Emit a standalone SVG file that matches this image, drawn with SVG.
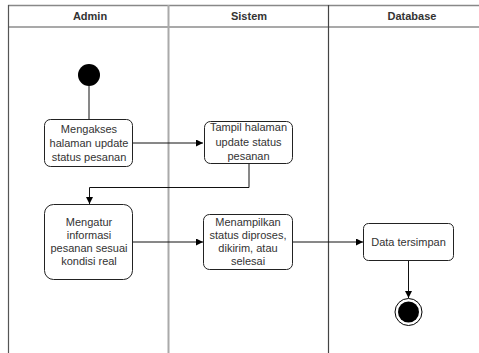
<svg xmlns="http://www.w3.org/2000/svg" width="479" height="353" viewBox="0 0 479 353">
<style>
text{font-family:"Liberation Sans",Arial,sans-serif;font-size:11px;fill:#333;text-anchor:middle}
.hd{font-weight:bold;fill:#333}
.box{fill:#fff;stroke:#222;stroke-width:1}
.ln{fill:none;stroke:#111;stroke-width:1}
</style>
<defs>
<marker id="ah" viewBox="0 0 10 10" refX="10" refY="5" markerWidth="7" markerHeight="7" markerUnits="userSpaceOnUse" orient="auto">
<path d="M0,0 L10,5 L0,10 z" fill="#000"/>
</marker>
</defs>
<g id="lanes">
<line x1="8" y1="5.5" x2="479" y2="5.5" stroke="#888" stroke-width="1.5"/>
<line x1="8" y1="27" x2="479" y2="27" stroke="#555" stroke-width="1.2"/>
<line x1="8.5" y1="5" x2="8.5" y2="353" stroke="#555" stroke-width="1.2"/>
<line x1="168.5" y1="5" x2="168.5" y2="353" stroke="#aaa" stroke-width="2"/>
<line x1="328.5" y1="5" x2="328.5" y2="353" stroke="#444" stroke-width="1.2"/>
<text class="hd" x="90" y="20">Admin</text>
<text class="hd" x="249" y="20">Sistem</text>
<text class="hd" x="412" y="20">Database</text>
</g>
<g id="connectors">
<line class="ln" x1="89" y1="86" x2="89" y2="119"/>
<line class="ln" x1="133" y1="143" x2="203" y2="143" marker-end="url(#ah)"/>
<polyline class="ln" points="249,164 249,187.5 89.5,187.5 89.5,204" marker-end="url(#ah)"/>
<line class="ln" x1="133" y1="242" x2="203" y2="242" marker-end="url(#ah)"/>
<line class="ln" x1="293" y1="242" x2="363" y2="242" marker-end="url(#ah)"/>
<line class="ln" x1="408.5" y1="261" x2="408.5" y2="298" marker-end="url(#ah)"/>
</g>
<g id="start">
<circle cx="89" cy="75" r="11" fill="#000"/>
</g>
<g id="n1">
<rect class="box" x="44.5" y="119.5" width="88" height="47" rx="6"/>
<text x="89" y="133">Mengakses</text>
<text x="89" y="147">halaman update</text>
<text x="89" y="161">status pesanan</text>
</g>
<g id="n2">
<rect class="box" x="204.5" y="121.5" width="88" height="42" rx="6"/>
<text x="248.5" y="131">Tampil halaman</text>
<text x="248.5" y="145.5">update status</text>
<text x="248.5" y="160">pesanan</text>
</g>
<g id="n3">
<rect class="box" x="44.5" y="204.5" width="88" height="75" rx="9"/>
<text x="89" y="226">Mengatur</text>
<text x="89" y="239">informasi</text>
<text x="89" y="252">pesanan sesuai</text>
<text x="89" y="265">kondisi real</text>
</g>
<g id="n4">
<rect class="box" x="203.5" y="214.5" width="89" height="55" rx="6"/>
<text x="248" y="226">Menampilkan</text>
<text x="248" y="239">status diproses,</text>
<text x="248" y="252">dikirim, atau</text>
<text x="248" y="265">selesai</text>
</g>
<g id="n5">
<rect class="box" x="363.5" y="223.5" width="90" height="37" rx="5"/>
<text x="408.5" y="246">Data tersimpan</text>
</g>
<g id="end">
<circle cx="408.5" cy="312" r="13.5" fill="#fff" stroke="#000" stroke-width="1"/>
<circle cx="408.5" cy="312" r="10.5" fill="#000"/>
</g>
</svg>
